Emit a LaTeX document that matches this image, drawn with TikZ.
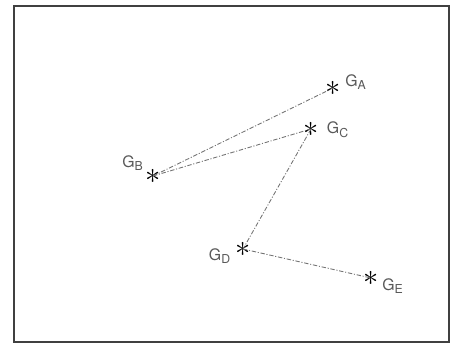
\documentclass[tikz,border=0pt]{standalone}
\usepackage{fontspec}
\setsansfont{TeX Gyre Heros}
\begin{document}
\begin{tikzpicture}[x=0.02cm, y=-0.02cm, every node/.style={align=center},
    pt/.style={inner sep=0pt, font=\LARGE},
    lbl/.style={text=black!65, font=\sffamily\small},
    link/.style={black!55, line width=0.5pt, dash pattern=on 2.5pt off 1pt on 0.6pt off 1pt}]
    \useasboundingbox (0,0) rectangle (450,344);
    \draw[black!75, line width=0.8pt] (14,6) rectangle (449,342);

    \node[pt] (ga) at (333,88) {$\ast$};
    \node[pt] (gc) at (311,129) {$\ast$};
    \node[pt] (gb) at (153,176) {$\ast$};
    \node[pt] (gd) at (243,249) {$\ast$};
    \node[pt] (ge) at (371,278) {$\ast$};

    \node[lbl] at (356,82) {G\textsubscript{\scriptsize A}};
    \node[lbl] at (338,130) {G\textsubscript{\scriptsize C}};
    \node[lbl] at (133,163) {G\textsubscript{\scriptsize B}};
    \node[lbl] at (220,256) {G\textsubscript{\scriptsize D}};
    \node[lbl] at (393,286) {G\textsubscript{\scriptsize E}};

    \draw[link] (gb.center) -- (ga.center);
    \draw[link] (gb.center) -- (gc.center);
    \draw[link] (gc.center) -- (gd.center);
    \draw[link] (gd.center) -- (ge.center);
\end{tikzpicture}
\end{document}
